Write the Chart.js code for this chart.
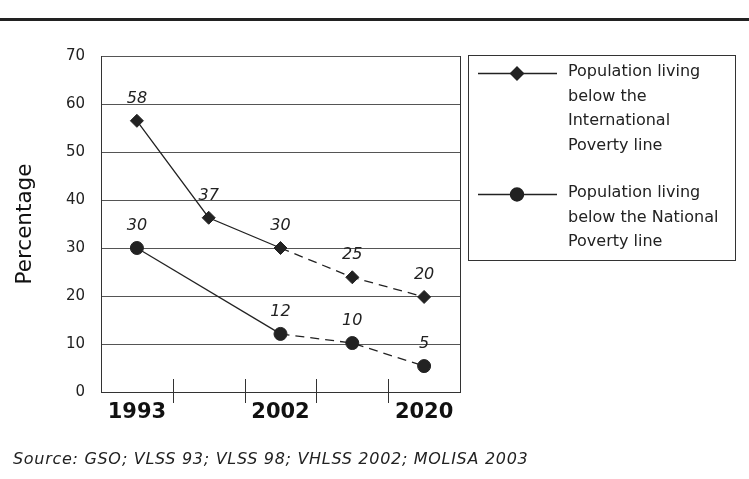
<!DOCTYPE html>
<html>
<head>
<meta charset="utf-8">
<script src="https://cdn.jsdelivr.net/npm/chart.js@4.4.0/dist/chart.umd.min.js"></script>
<style>
  body { margin: 0; background: #fff; }
  #wrap { position: relative; width: 749px; height: 479px; overflow: hidden; }
  #regua { position: absolute; left: 0; top: 18px; width: 749px; height: 3px; background: #222; }
  #fonte { position: absolute; left: 13px; top: 449px; font-family: 'DejaVu Sans', sans-serif;
           font-style: italic; font-size: 16px; letter-spacing: 0.7px; color: #222; white-space: nowrap; }
  canvas { position: absolute; left: 0; top: 0; }
</style>
</head>
<body>
<div id="wrap">
  <canvas id="graficoPobreza" width="749" height="479"></canvas>
  <div id="regua"></div>
  <div id="fonte">Source: GSO; VLSS 93; VLSS 98; VHLSS 2002; MOLISA 2003</div>
</div>
<script>
var listAnos = ['1993', '', '2002', '', '2020']
var listInternacional = [56.5, 36.3, 30, 23.9, 19.8]
var listNacional = [30, null, 12.1, 10.2, 5.4]
var rotulosInternacional = ['58', '37', '30', '25', '20']
var rotulosNacional = ['30', '', '12', '10', '5']
var legendaInternacional = ['Population living', 'below the', 'International', 'Poverty line']
var legendaNacional = ['Population living', 'below the National', 'Poverty line']
var listTicksY = [0, 10, 20, 30, 40, 50, 60, 70]

var corLinha = '#222'

function tracejado(ctx) {
  // depois de 2002 a linha fica tracejada
  return ctx.p0DataIndex >= 2 ? [9, 6] : undefined
}

var pluginExtras = {
  id: 'extras',
  afterDatasetsDraw(chart) {
    var ctx = chart.ctx
    var area = chart.chartArea
    var x = chart.scales.x

    ctx.save()
    // borda direita
    ctx.strokeStyle = '#333'
    ctx.lineWidth = 1
    ctx.beginPath()
    ctx.moveTo(area.right + 0.5, area.top)
    ctx.lineTo(area.right + 0.5, area.bottom)
    ctx.stroke()

    // marcas entre as categorias
    for (var i = 0; i < listAnos.length - 1; i++) {
      var px = Math.round((x.getPixelForValue(i) + x.getPixelForValue(i + 1)) / 2) + 0.5
      ctx.beginPath()
      ctx.moveTo(px, area.bottom - 13)
      ctx.lineTo(px, area.bottom + 11)
      ctx.stroke()
    }

    // rotulos dos pontos
    ctx.fillStyle = corLinha
    ctx.font = 'italic 16px "DejaVu Sans"'
    ctx.textAlign = 'center'
    ctx.textBaseline = 'middle'
    var rotulos = [rotulosInternacional, rotulosNacional]
    for (var d = 0; d < 2; d++) {
      var meta = chart.getDatasetMeta(d)
      meta.data.forEach(function (pt, j) {
        if (!rotulos[d][j]) return
        ctx.fillText(rotulos[d][j], pt.x, pt.y - 22)
      })
    }

    // legenda
    ctx.strokeStyle = '#333'
    ctx.strokeRect(468.5, 55.5, 267, 205)
    ctx.font = '16px "DejaVu Sans"'
    ctx.textAlign = 'left'
    var entradas = [
      { linhas: legendaInternacional, y: 73, estilo: 'rectRot' },
      { linhas: legendaNacional, y: 194, estilo: 'circle' }
    ]
    entradas.forEach(function (e) {
      ctx.strokeStyle = corLinha
      ctx.lineWidth = 1.4
      ctx.beginPath()
      ctx.moveTo(478, e.y + 0.5)
      ctx.lineTo(557, e.y + 0.5)
      ctx.stroke()
      Chart.helpers.drawPoint(ctx, { pointStyle: e.estilo, radius: 6.5, borderWidth: 1 }, 517, e.y + 0.5)
      ctx.fill()
      e.linhas.forEach(function (t, k) {
        ctx.fillText(t, 568, e.y - 1 + k * 24.5)
      })
    })
    ctx.restore()
  }
}

var ctx1 = document.getElementById('graficoPobreza')

var graficoPobreza = new Chart(ctx1, {
  type: 'line',
  data: {
    labels: listAnos,
    datasets: [{
      label: 'International Poverty line',
      data: listInternacional,
      borderColor: corLinha,
      backgroundColor: corLinha,
      borderWidth: 1.3,
      pointStyle: 'rectRot',
      pointRadius: 6.5,
      pointBorderWidth: 1,
      segment: { borderDash: tracejado }
    }, {
      label: 'National Poverty line',
      data: listNacional,
      borderColor: corLinha,
      backgroundColor: corLinha,
      borderWidth: 1.3,
      pointStyle: 'circle',
      pointRadius: 6.5,
      pointBorderWidth: 1,
      spanGaps: true,
      segment: { borderDash: tracejado }
    }]
  },
  options: {
    responsive: false,
    animation: false,
    layout: { padding: { top: 56, right: 289, left: 0, bottom: 0 } },
    plugins: {
      legend: { display: false },
      tooltip: { enabled: false }
    },
    scales: {
      x: {
        offset: true,
        grid: { display: false, drawTicks: false },
        border: { display: true, color: '#333', width: 1 },
        ticks: {
          autoSkip: false,
          maxRotation: 0,
          padding: 8,
          color: '#111',
          font: { family: 'DejaVu Sans', size: 21, weight: 'bold' }
        },
        afterFit(scale) { scale.height = 87 }
      },
      y: {
        min: 0,
        max: 70,
        afterBuildTicks(scale) { scale.ticks = listTicksY.map(v => ({ value: v })) },
        grid: { color: '#555', lineWidth: 1, drawTicks: false },
        border: { display: true, color: '#333', width: 1 },
        ticks: {
          padding: 16,
          color: '#222',
          font: { family: 'DejaVu Sans', size: 15 }
        },
        title: {
          display: true,
          text: 'Percentage',
          color: '#111',
          font: { family: 'DejaVu Sans', size: 21.5 },
          padding: { top: 13, bottom: 0 }
        },
        afterFit(scale) { scale.width = 101 }
      }
    }
  },
  plugins: [pluginExtras]
})
</script>
</body>
</html>
